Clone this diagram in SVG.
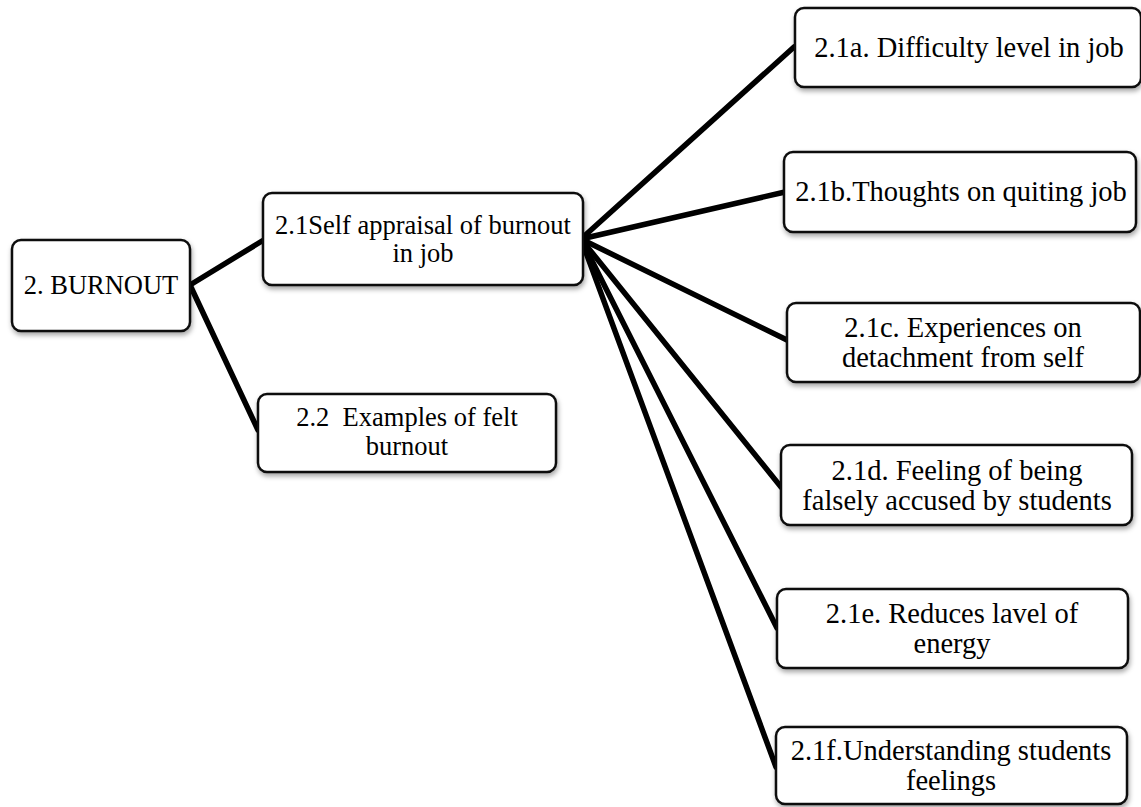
<svg xmlns="http://www.w3.org/2000/svg" width="1141" height="807" viewBox="0 0 1141 807">
<defs>
<filter id="sh" x="-10%" y="-10%" width="125%" height="135%">
<feDropShadow dx="1" dy="3" stdDeviation="2.5" flood-color="#000" flood-opacity="0.35"/>
</filter>
</defs>
<style>
.box{fill:#fff;stroke:#111;stroke-width:2.5;filter:url(#sh)}
text{font-family:'Liberation Serif','Times New Roman',Times,serif;fill:#000;text-anchor:middle}
.l{font-size:26.5px}
.r{font-size:28.5px}
.c{stroke:#000;stroke-width:5.5;fill:none;stroke-linecap:round}
</style>
<rect width="1141" height="807" fill="#fff"/>
<g id="connectors">
<line class="c" x1="190" y1="285" x2="262" y2="241"/>
<line class="c" x1="190" y1="285" x2="258" y2="430"/>
<line class="c" x1="581" y1="239" x2="794" y2="47"/>
<line class="c" x1="581" y1="239" x2="785" y2="192"/>
<line class="c" x1="581" y1="239" x2="787" y2="340"/>
<line class="c" x1="581" y1="239" x2="781" y2="487"/>
<line class="c" x1="581" y1="239" x2="777" y2="628"/>
<line class="c" x1="581" y1="239" x2="776" y2="767"/>
</g>
<g id="n2" font-family="Liberation Serif, serif">
<rect class="box" x="12" y="240" width="178" height="91" rx="9"/>
<text class="l" x="101" y="294">2. BURNOUT</text>
</g>
<g id="n21" font-family="Liberation Serif, serif">
<rect class="box" x="263" y="193" width="320" height="92" rx="9"/>
<text class="l" x="423" y="234">2.1Self appraisal of burnout</text>
<text class="l" x="423" y="262">in job</text>
</g>
<g id="n22" font-family="Liberation Serif, serif">
<rect class="box" x="258" y="394" width="298" height="78" rx="9"/>
<text class="l" x="407" y="426" xml:space="preserve">2.2  Examples of felt</text>
<text class="l" x="407" y="455">burnout</text>
</g>
<g id="n21a" font-family="Liberation Serif, serif">
<rect class="box" x="795" y="8" width="346" height="79" rx="9"/>
<text class="r" x="969" y="57">2.1a. Difficulty level in job</text>
</g>
<g id="n21b" font-family="Liberation Serif, serif">
<rect class="box" x="784" y="152" width="352" height="80" rx="9"/>
<text class="r" x="961" y="201">2.1b.Thoughts on quiting job</text>
</g>
<g id="n21c" font-family="Liberation Serif, serif">
<rect class="box" x="787" y="303" width="353" height="79" rx="9"/>
<text class="r" x="963" y="337">2.1c. Experiences on</text>
<text class="r" x="963" y="367">detachment from self</text>
</g>
<g id="n21d" font-family="Liberation Serif, serif">
<rect class="box" x="781" y="445" width="351" height="80" rx="9"/>
<text class="r" x="957" y="480">2.1d. Feeling of being</text>
<text class="r" x="957" y="510">falsely accused by students</text>
</g>
<g id="n21e" font-family="Liberation Serif, serif">
<rect class="box" x="777" y="589" width="351" height="79" rx="9"/>
<text class="r" x="952" y="623">2.1e. Reduces lavel of</text>
<text class="r" x="952" y="653">energy</text>
</g>
<g id="n21f" font-family="Liberation Serif, serif">
<rect class="box" x="776" y="727" width="351" height="77" rx="9"/>
<text class="r" x="951" y="760">2.1f.Understanding students</text>
<text class="r" x="951" y="790">feelings</text>
</g>
</svg>
